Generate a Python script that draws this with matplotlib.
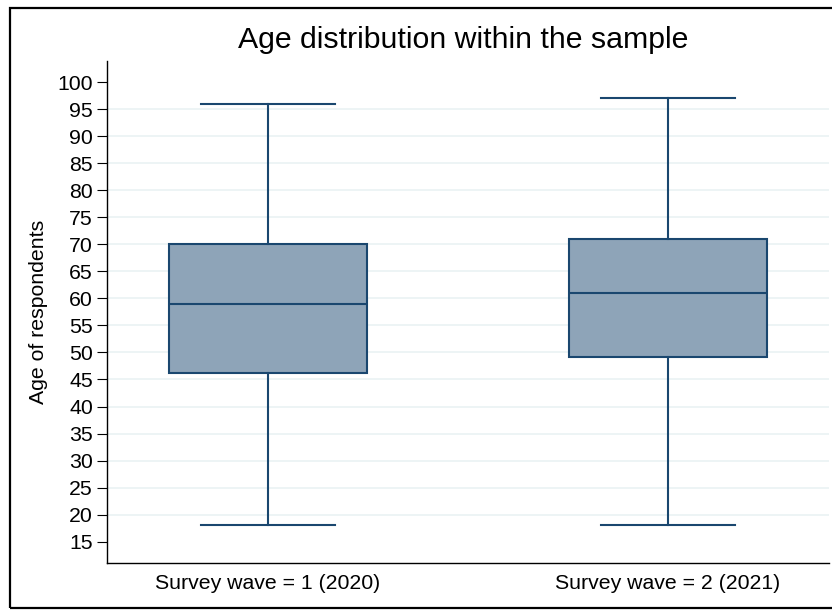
import matplotlib
matplotlib.use("Agg")
import matplotlib.pyplot as plt
from matplotlib.patches import Rectangle

plt.rcParams['font.family'] = ['Liberation Sans', 'DejaVu Sans']

categories = ["Survey wave = 1 (2020)", "Survey wave = 2 (2021)"]
whislo = [18, 18]
q1 = [46.2, 49.2]
med = [59, 61]
q3 = [70, 71]
whishi = [96, 97]
yticks = list(range(15, 101, 5))
grid_vals = list(range(20, 96, 5))

edge = "#1a476f"
fill = "#8ea4b8"

fig = plt.figure(figsize=(8.32, 6.12), dpi=100)
W, H = 832, 612
ax = fig.add_axes([107 / W, 1 - 563 / H, (829 - 107) / W, (563 - 61) / H])

stats = []
for i, c in enumerate(categories):
    stats.append(dict(label=c, whislo=whislo[i], q1=q1[i], med=med[i],
                      q3=q3[i], whishi=whishi[i], fliers=[]))

for g in grid_vals:
    ax.axhline(g, color="#eaf2f3", lw=1.2, zorder=0)

ax.bxp(stats, positions=[1, 2], widths=0.495, capwidths=0.333,
       patch_artist=True, showfliers=False,
       boxprops=dict(facecolor=fill, edgecolor=edge, linewidth=1.5),
       medianprops=dict(color=edge, linewidth=1.5),
       whiskerprops=dict(color=edge, linewidth=1.5),
       capprops=dict(color=edge, linewidth=1.5), zorder=2)

ax.set_xlim(0.5975, 2.4025)
ax.set_ylim(11.06, 103.9)
ax.set_yticks(yticks)
ax.set_yticklabels([str(v) for v in yticks])
ax.tick_params(axis='y', length=7, width=0.8, labelsize=15.3, pad=3)
ax.tick_params(axis='x', length=0, labelsize=15.3, pad=8)
ax.spines['top'].set_visible(False)
ax.spines['right'].set_visible(False)
ax.spines['left'].set_linewidth(1.0)
ax.spines['bottom'].set_linewidth(1.0)
ax.set_ylabel("Age of respondents", fontsize=15.3, labelpad=7)
ax.set_title("Age distribution within the sample", fontsize=21.8, pad=9, x=0.493)

border = Rectangle((10 / W, 1 - 608 / H), 1.0, (608 - 8) / H,
                   transform=fig.transFigure, fill=False, edgecolor="black",
                   linewidth=1.6, clip_on=False)
fig.patches.append(border)

fig.savefig("out.png", dpi=100)
